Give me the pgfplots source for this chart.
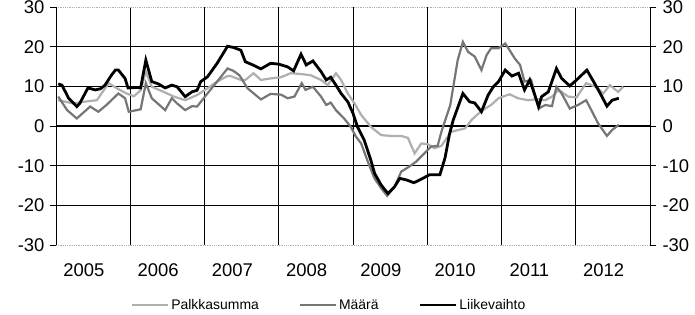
\documentclass[border=0pt]{standalone}
\usepackage{fontspec}
\setmainfont{Liberation Sans}
\usepackage{pgfplots}
\pgfplotsset{compat=1.18}
\definecolor{palk}{RGB}{175,175,175}
\definecolor{maara}{RGB}{118,118,118}
\begin{document}
\begin{tikzpicture}
\useasboundingbox (-56bp,-70bp) rectangle (639bp,245bp);
\begin{axis}[
 at={(0,0)}, anchor=south west,
 scale only axis, width=594bp, height=238bp,
 xmin=0, xmax=8, ymin=-30, ymax=30,
 /pgf/number format/assume math mode=true,
 ticklabel style={font=\fontsize{18.5}{21}\selectfont},
 separate axis lines,
 every outer x axis line/.append style={palk, densely dotted, line width=0.8bp},
 every outer y axis line/.append style={black, line width=0.9bp},
 xtick={1,2,3,4,5,6,7}, xticklabels={},
 xmajorgrids, ymajorgrids,
 major grid style={black, line width=0.8bp},
 ytick={-20,-10,10,20},
 extra y ticks={-30,0,30},
 extra y tick style={grid=none},
 extra x ticks={0.375,1.375,2.375,3.375,4.375,5.375,6.375,7.375},
 extra x tick labels={2005,2006,2007,2008,2009,2010,2011,2012},
 extra x tick style={grid=none, major tick length=0pt},
 xticklabel style={yshift=-15bp},
 major x tick style={draw=none},
 ytick pos=left, tick align=outside, major tick length=6bp,
 major y tick style={black, line width=0.9bp},
 yticklabel style={xshift=-2bp},
 legend style={at={([yshift=-60bp]axis description cs:0.46,0)}, anchor=center,
   draw=none, fill=none, legend columns=3,
   font=\fontsize{14}{17}\selectfont,
   /tikz/every even column/.append style={column sep=38bp}},
 legend image code/.code={\draw[#1] (0bp,0bp) -- (36bp,0bp);},
]
\draw[black, line width=2.7bp] (axis cs:0,0) -- (axis cs:8,0);
\addplot[palk, line width=2.2bp] coordinates {
(0.03,6.5)(0.23,5.7)(0.37,6.1)(0.55,6.5)(0.71,10.8)(0.82,9.5)(0.95,8.2)(1.05,7.5)
(1.14,9.0)(1.21,13.7)(1.29,9.9)(1.45,8.6)(1.59,7.4)(1.74,6.5)(1.90,7.8)(2.04,9.5)
(2.17,11.2)(2.31,12.6)(2.35,12.6)(2.49,11.6)(2.55,11.6)(2.66,13.3)(2.76,11.6)(2.89,12.0)
(3.03,12.3)(3.16,13.3)(3.30,13.1)(3.43,12.8)(3.57,11.6)(3.66,10.3)(3.77,13.3)(3.84,11.6)
(3.93,8.2)(4.02,5.7)(4.11,2.8)(4.24,-0.2)(4.38,-2.3)(4.51,-2.5)(4.65,-2.5)(4.74,-3.0)
(4.83,-6.9)(4.92,-4.4)(5.01,-4.6)(5.10,-5.6)(5.19,-5.0)(5.32,-1.5)(5.42,-1.0)(5.51,-0.6)
(5.60,1.6)(5.73,3.8)(5.86,5.3)(5.96,7.0)(6.11,8.0)(6.22,7.0)(6.36,6.5)(6.50,6.8)
(6.59,6.5)(6.68,7.4)(6.77,9.1)(6.90,7.4)(7.01,7.2)(7.14,10.8)(7.28,9.8)(7.37,8.2)
(7.46,10.3)(7.57,8.6)(7.64,9.9)
};
\addlegendentry{Palkkasumma}
\addplot[maara, line width=2.2bp] coordinates {
(0.03,7.4)(0.15,4.0)(0.28,1.9)(0.46,4.9)(0.57,3.6)(0.68,5.3)(0.84,8.2)(0.93,7.0)
(0.98,3.6)(1.14,4.2)(1.21,10.8)(1.29,7.0)(1.47,4.0)(1.56,7.0)(1.63,5.7)(1.74,4.0)
(1.83,5.0)(1.90,4.9)(2.04,8.2)(2.17,11.2)(2.31,14.5)(2.39,13.9)(2.47,12.8)(2.58,9.5)
(2.76,6.7)(2.89,8.1)(3.03,7.9)(3.12,7.0)(3.21,7.4)(3.31,10.8)(3.36,9.1)(3.46,9.9)
(3.57,7.4)(3.64,5.3)(3.70,5.9)(3.77,4.0)(3.88,1.9)(3.97,-0.2)(4.04,-2.7)(4.11,-4.4)
(4.20,-9.0)(4.29,-13.2)(4.38,-15.7)(4.46,-17.6)(4.56,-15.3)(4.65,-11.5)(4.76,-10.2)(4.85,-9.0)
(4.94,-7.3)(5.05,-5.2)(5.14,-5.0)(5.19,-1.5)(5.31,5.3)(5.41,16.6)(5.48,21.2)(5.55,18.7)
(5.64,17.5)(5.73,14.1)(5.80,17.9)(5.86,19.6)(5.96,19.6)(6.05,20.8)(6.11,19.1)(6.18,17.0)
(6.25,15.4)(6.31,11.2)(6.40,11.6)(6.47,6.5)(6.50,4.4)(6.59,5.3)(6.68,5.0)(6.74,9.9)
(6.81,8.2)(6.92,4.4)(7.03,5.3)(7.14,6.5)(7.21,4.0)(7.30,0.7)(7.42,-2.5)(7.49,-1.0)
(7.58,0.3)
};
\addlegendentry{Määrä}
\addplot[black, line width=2.8bp] coordinates {
(0.03,10.6)(0.08,10.3)(0.17,7.0)(0.28,4.9)(0.32,5.7)(0.43,9.6)(0.53,9.1)(0.60,9.4)
(0.66,10.3)(0.75,12.9)(0.80,14.1)(0.84,14.1)(0.93,12.0)(0.97,9.6)(1.09,9.7)(1.14,9.6)
(1.21,16.6)(1.29,11.2)(1.38,10.6)(1.47,9.6)(1.56,10.3)(1.63,9.9)(1.74,7.4)(1.83,8.6)
(1.90,9.0)(1.95,11.2)(2.04,12.4)(2.17,15.8)(2.31,20.1)(2.39,19.8)(2.49,19.1)(2.55,16.2)
(2.65,15.4)(2.76,14.4)(2.89,15.8)(3.00,15.6)(3.12,14.9)(3.20,13.9)(3.30,18.1)(3.37,15.4)
(3.46,16.4)(3.57,13.7)(3.64,11.6)(3.70,12.3)(3.77,10.3)(3.84,8.2)(3.93,6.1)(4.00,3.2)
(4.06,-0.2)(4.15,-3.5)(4.24,-8.6)(4.29,-11.9)(4.38,-14.9)(4.47,-17.0)(4.56,-15.3)(4.63,-13.2)
(4.72,-13.6)(4.82,-14.3)(4.92,-13.4)(5.03,-12.3)(5.17,-12.3)(5.24,-8.0)(5.30,-2.0)(5.35,1.5)
(5.48,8.2)(5.57,6.1)(5.64,5.8)(5.73,3.6)(5.82,7.8)(5.89,9.9)(5.96,11.2)(6.05,14.1)
(6.14,12.6)(6.23,13.3)(6.31,9.1)(6.38,11.6)(6.50,4.9)(6.54,7.4)(6.63,8.6)(6.74,14.5)
(6.81,12.0)(6.92,10.1)(7.01,11.6)(7.15,14.1)(7.24,11.2)(7.33,8.2)(7.42,5.0)(7.49,6.5)
(7.58,7.0)
};
\addlegendentry{Liikevaihto}
\end{axis}
\begin{axis}[
 at={(0,0)}, anchor=south west,
 scale only axis, width=594bp, height=238bp,
 xmin=0, xmax=8, ymin=-30, ymax=30,
 /pgf/number format/assume math mode=true,
 ticklabel style={font=\fontsize{18.5}{21}\selectfont},
 axis x line=none, axis y line*=right,
 y axis line style={black, line width=0.9bp, -},
 ytick={-30,-20,-10,0,10,20,30},
 tick align=outside, major tick length=6bp,
 major y tick style={black, line width=0.9bp},
 yticklabel style={xshift=3bp},
]
\end{axis}
\end{tikzpicture}
\end{document}
